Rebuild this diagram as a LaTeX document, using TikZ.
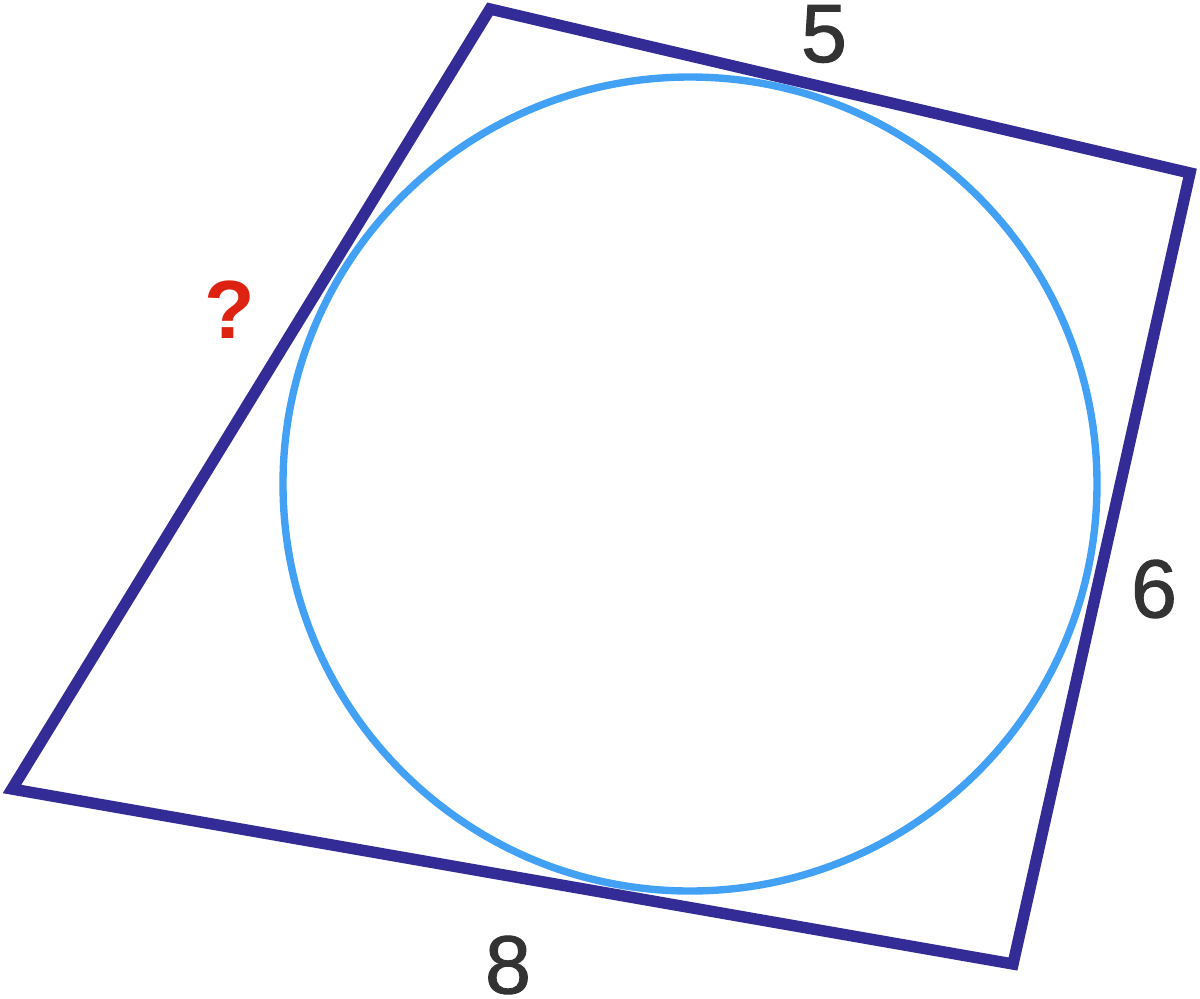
\documentclass[tikz,border=0pt]{standalone}
\usepackage{fontspec}
\setmainfont{Liberation Sans}
\newfontfamily\sidefont{Liberation Sans}[FakeBold=1.2]
\usepackage{tikz}
\usetikzlibrary{calc}

\definecolor{quadblue}{RGB}{51,43,150}
\definecolor{circblue}{RGB}{66,160,245}
\definecolor{labgray}{RGB}{51,51,51}
\definecolor{askred}{RGB}{221,34,17}

\begin{document}
\begin{tikzpicture}[x=0.02cm,y=-0.02cm]
      \tikzset{side label/.style={inner sep=0pt,
          text=#1,
          font=\sidefont\fontsize{47}{47}\selectfont}
      }
      \useasboundingbox (0,0) rectangle (1200,998);
      \coordinate (T) at (490,9);
      \coordinate (R) at (1190,173);
      \coordinate (D) at (1013,964);
      \coordinate (L) at (12,789);
      \coordinate (O) at (690,484);
      \draw [circblue, line width=4.2pt] (O) circle [radius=407];
      \draw [quadblue, line width=6.5pt, miter limit=20] (T)--(R)--(D)--(L)--cycle;
      \node [side label=labgray] (five) at (824,34) {5};
      \node [side label=labgray] (six) at (1154,589) {6};
      \node [side label=labgray] (eight) at (508,965) {8};
      \node [side label=askred, font=\fontsize{47}{47}\selectfont\bfseries] (ask) at (230,310) {?};
    \end{tikzpicture}
\end{document}
